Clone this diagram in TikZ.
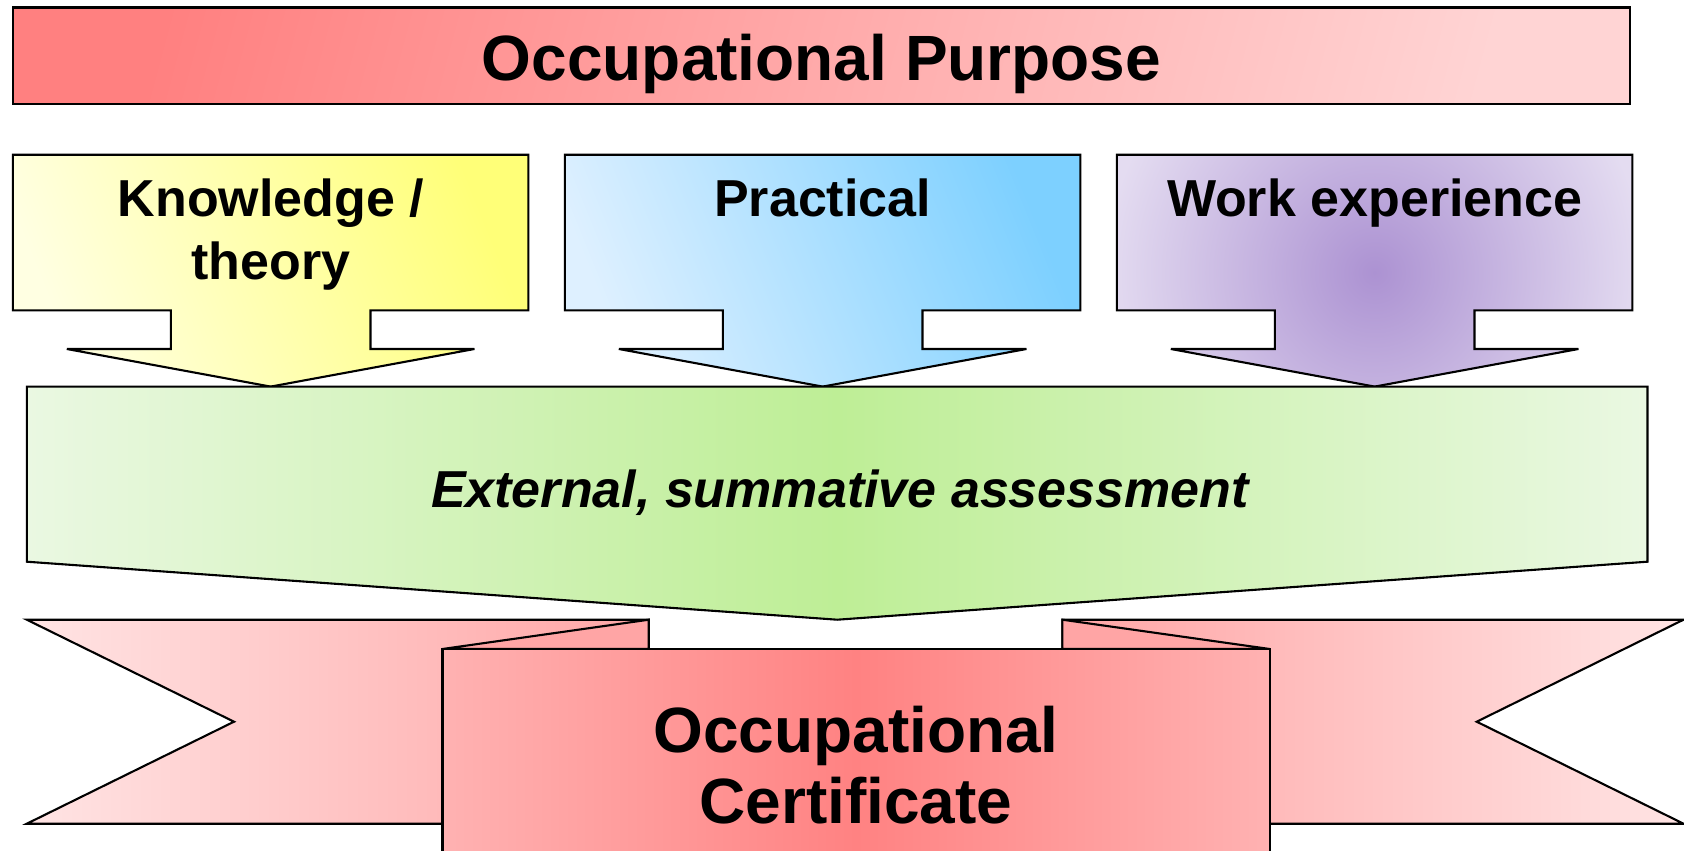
\documentclass[tikz,border=0pt]{standalone}
\usepackage{fontspec}
\setmainfont{Liberation Sans}
\definecolor{redA}{RGB}{255,128,128}
\definecolor{redB}{RGB}{255,212,212}
\definecolor{yelA}{RGB}{255,255,226}
\definecolor{yelB}{RGB}{255,255,120}
\definecolor{bluA}{RGB}{222,240,255}
\definecolor{bluB}{RGB}{125,208,255}
\definecolor{purA}{RGB}{172,146,210}
\definecolor{purB}{RGB}{228,220,241}
\definecolor{grnA}{RGB}{190,238,150}
\definecolor{grnB}{RGB}{234,248,226}
\definecolor{ribA}{RGB}{255,228,228}
\definecolor{ribB}{RGB}{255,165,165}
\definecolor{panA}{RGB}{255,178,178}
\definecolor{panM}{RGB}{255,130,130}
\newcommand{\droppath}{(-257.75,0) -- (257.75,0) -- (257.75,155.7) -- (99.85,155.7)
      -- (99.85,194.3) -- (203.8,194.3) -- (0,231.9) -- (-203.8,194.3)
      -- (-99.85,194.3) -- (-99.85,155.7) -- (-257.75,155.7) -- cycle}
\begin{document}
\begin{tikzpicture}[x=1pt,y=-1pt,line width=2.1pt,line join=miter,
  outline/.style={draw=black},
  bigtext/.style={font=\fontsize{64}{71}\selectfont\bfseries,align=center,anchor=base,inner sep=0pt},
  midtext/.style={font=\fontsize{52}{63}\selectfont\bfseries,align=center,anchor=base,inner sep=0pt},
  droparrow/.pic={
    \path[pic actions] \droppath;
  }]
\useasboundingbox (0,0) rectangle (1684,851);
\clip (0,0) rectangle (1684,851);
\fill[white] (0,0) rectangle (1684,851);

% top bar
\draw[outline,left color=redA,right color=redB,shading angle=75]
  (12.9,7.5) rectangle (1630.4,104.2);
\node[bigtext] (purpose) at (821.5,80.5) {Occupational Purpose};

% three input arrows
\pic[outline,left color=yelA,right color=yelB,shading angle=112] (know) at (270.65,154.7) {droparrow};
\pic[outline,left color=bluA,right color=bluB,shading angle=112] (prac) at (822.65,154.7) {droparrow};
\begin{scope}[shift={(1374.65,154.7)}]
  \clip \droppath;
  \fill[purB] (-300,-10) rectangle (300,250);
  \shade[inner color=purA,outer color=purB] (0,118) circle (270);
\end{scope}
\pic[outline] (work) at (1374.65,154.7) {droparrow};
\node[midtext] (knowtext) at (271,279) {Knowledge /\\theory};
\node[midtext] (practext) at (822.65,216) {Practical};
\node[midtext] (worktext) at (1374.65,216) {Work experience};

% assessment arrow
\draw[outline,left color=grnB,right color=grnB,middle color=grnA]
  (26.8,386.6) -- (1647.5,386.6) -- (1647.5,561.7) -- (837.2,619.7) -- (26.8,561.7) -- cycle;
\node[midtext,font=\fontsize{52}{63}\selectfont\bfseries\itshape] (assess) at (840,507) {External, summative assessment};

% ribbon
\draw[outline,left color=ribA,right color=ribB]
  (26.8,619.7) -- (648.7,619.7) -- (648.7,823.7) -- (26.8,823.7) -- (234,721.7) -- cycle;
\draw[outline,left color=ribB,right color=ribA]
  (1062.4,619.7) -- (1683.5,619.7) -- (1476.7,721.7) -- (1683.5,823.7) -- (1062.4,823.7) -- cycle;
\draw[outline,fill=ribB] (442.5,649) -- (648.7,619.7) -- (648.7,649) -- cycle;
\draw[outline,fill=ribB] (1269.8,649) -- (1062.4,619.7) -- (1062.4,649) -- cycle;
\draw[outline,left color=panA,right color=panA,middle color=panM]
  (442.5,880) -- (442.5,649) -- (1269.8,649) -- (1269.8,880);
\node[bigtext] (cert) at (856,823) {Occupational\\Certificate};
\end{tikzpicture}
\end{document}
